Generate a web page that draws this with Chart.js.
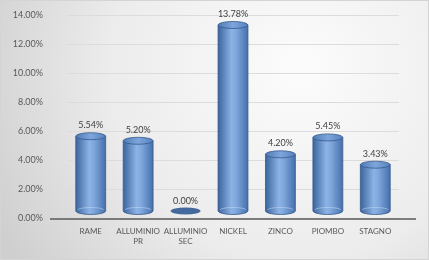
<!DOCTYPE html>
<html>
<head>
<meta charset="utf-8">
<script src="https://cdn.jsdelivr.net/npm/chart.js@4/dist/chart.umd.min.js"></script>
<style>
  body { margin: 0; background: #fff; }
  #wrap { width: 429px; height: 260px; position: relative; }
</style>
</head>
<body>
<div id="wrap"><canvas id="chart" width="429" height="260"></canvas></div>
<script>
const categories = ["RAME", ["ALLUMINIO", "PR"], ["ALLUMINIO", "SEC"], "NICKEL", "ZINCO", "PIOMBO", "STAGNO"];
const values = [5.54, 5.20, 0.00, 13.78, 4.20, 5.45, 3.43];
const yTicks = [0, 2, 4, 6, 8, 10, 12, 14];

const FONT = "Lato, 'Open Sans', sans-serif";

// gray gradient backdrop + frame
const backdrop = {
  id: "backdrop",
  beforeDraw(chart) {
    const ctx = chart.ctx;
    const w = chart.width, h = chart.height;
    ctx.save();
    const g = ctx.createRadialGradient(300, 70, 10, 300, 70, 340);
    g.addColorStop(0, "#fbfbfb");
    g.addColorStop(0.55, "#ececec");
    g.addColorStop(1, "#cfcfcf");
    ctx.fillStyle = g;
    ctx.fillRect(0, 0, w, h);
    ctx.strokeStyle = "#d4d4d4";
    ctx.lineWidth = 1;
    ctx.strokeRect(0.5, 0.5, w - 1, h - 1);
    ctx.restore();
  }
};

// draws each bar as a cylinder, plus the value labels and floor line
const cylinders = {
  id: "cylinders",
  afterDatasetsDraw(chart) {
    const ctx = chart.ctx;
    const meta = chart.getDatasetMeta(0);
    const area = chart.chartArea;
    ctx.save();

    // floor line
    ctx.strokeStyle = "#595959";
    ctx.lineWidth = 1.5;
    ctx.beginPath();
    ctx.moveTo(50, area.bottom + 1);
    ctx.lineTo(416, area.bottom + 1);
    ctx.stroke();

    meta.data.forEach((bar, i) => {
      const cx = bar.x;
      const rx = bar.width / 2;
      const ry = 3.5;
      const top = bar.y;
      const base = bar.base;

      if (values[i] === 0) {
        ctx.fillStyle = "#44699c";
        ctx.beginPath();
        ctx.ellipse(cx, base, rx, ry, 0, 0, Math.PI * 2);
        ctx.fill();
      } else {
        const g = ctx.createLinearGradient(cx - rx, 0, cx + rx, 0);
        g.addColorStop(0, "#3b659e");
        g.addColorStop(0.45, "#8db3e6");
        g.addColorStop(0.6, "#80a8de");
        g.addColorStop(1, "#4570aa");
        // body
        ctx.fillStyle = g;
        ctx.beginPath();
        ctx.moveTo(cx - rx, top);
        ctx.lineTo(cx - rx, base);
        ctx.ellipse(cx, base, rx, ry, 0, Math.PI, 0, true);
        ctx.lineTo(cx + rx, top);
        ctx.closePath();
        ctx.fill();
        ctx.strokeStyle = "#37598a";
        ctx.lineWidth = 0.8;
        ctx.stroke();
        // floor glint at the bottom
        ctx.strokeStyle = "rgba(190,215,245,0.7)";
        ctx.beginPath();
        ctx.ellipse(cx, base - 1, rx - 2, ry - 1, 0, Math.PI, 0, false);
        ctx.stroke();
        // top cap
        const tg = ctx.createLinearGradient(cx - rx, 0, cx + rx, 0);
        tg.addColorStop(0, "#4f7bb7");
        tg.addColorStop(0.5, "#7ea6dc");
        tg.addColorStop(1, "#5682bd");
        ctx.fillStyle = tg;
        ctx.beginPath();
        ctx.ellipse(cx, top, rx, ry, 0, 0, Math.PI * 2);
        ctx.fill();
        ctx.strokeStyle = "#37598a";
        ctx.stroke();
      }

      // value label
      ctx.fillStyle = "#404040";
      ctx.font = "9px " + FONT;
      ctx.textAlign = "center";
      ctx.textBaseline = "bottom";
      const labelY = values[i] === 0 ? base - ry - 2 : top - ry - 3;
      ctx.fillText(values[i].toFixed(2) + "%", cx, labelY);
    });
    ctx.restore();
  }
};

new Chart(document.getElementById("chart"), {
  type: "bar",
  data: {
    labels: categories,
    datasets: [{
      data: values,
      yAxisID: "depth",
      backgroundColor: "rgba(0,0,0,0)",
      borderWidth: 0,
      categoryPercentage: 1,
      barPercentage: 0.63
    }]
  },
  options: {
    responsive: false,
    animation: false,
    layout: { padding: { left: 7, right: 30, top: 15, bottom: 0 } },
    plugins: {
      legend: { display: false },
      tooltip: { enabled: false }
    },
    scales: {
      x: {
        grid: { display: false },
        border: { display: false },
        ticks: {
          color: "#595959",
          font: { family: FONT, size: 8 },
          padding: 1,
          maxRotation: 0,
          autoSkip: false
        },
        afterFit(scale) { scale.height = 42; }
      },
      y: {
        min: 0,
        max: 14,
        afterBuildTicks(scale) {
          scale.ticks = yTicks.map(v => ({ value: v }));
        },
        grid: { color: "#dcdcdc", drawTicks: false },
        border: { display: false },
        ticks: {
          color: "#595959",
          font: { family: FONT, size: 9 },
          padding: 24,
          callback: v => v.toFixed(2) + "%"
        },
        afterFit(scale) {
          scale.width = 60;
          scale.paddingTop = 0;
          scale.paddingBottom = 0;
        }
      },
      // hidden axis for the cylinders: the 3D floor sits a bit behind the front axis
      depth: {
        display: false,
        position: "left",
        min: -0.52,
        max: 14.52
      }
    }
  },
  plugins: [backdrop, cylinders]
});
</script>
</body>
</html>
